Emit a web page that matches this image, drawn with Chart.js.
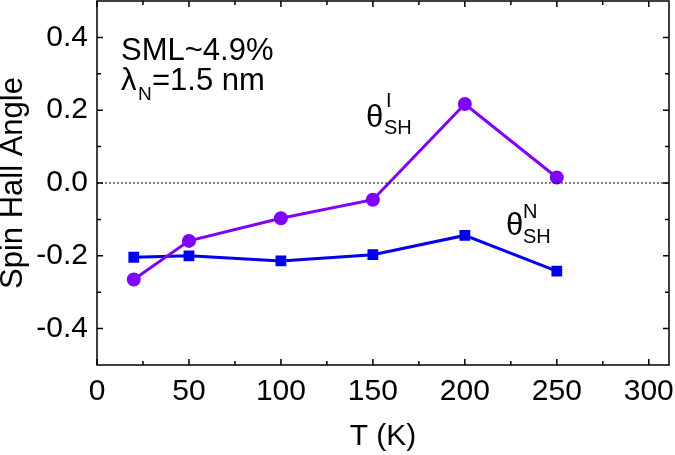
<!DOCTYPE html>
<html>
  <head>
    <script src="https://cdn.jsdelivr.net/npm/chart.js"></script>
    <title>Spin Hall Angle</title>
    <style>
      body { margin: 0; background: white; }
      canvas { display: block; }
    </style>
  </head>
  <body>
    <canvas id="shaChart" width="675" height="455"></canvas>
    <script>
      // data
      const temps = [20, 50, 100, 150, 200, 250];
      const thetaI = [-0.265, -0.159, -0.097, -0.046, 0.217, 0.015];
      const thetaN = [-0.204, -0.200, -0.214, -0.197, -0.144, -0.242];
      const xTicks = [0, 50, 100, 150, 200, 250, 300];
      const yTicks = [-0.4, -0.2, 0.0, 0.2, 0.4];
      const xMinor = [25, 75, 125, 175, 225, 275];
      const yMinor = [-0.3, -0.1, 0.1, 0.3];

      const FONT = "'Liberation Sans', Arial, sans-serif";

      // frame, inward ticks, zero line and text labels
      const framePlugin = {
        id: 'frame',
        afterDraw(chart) {
          const ctx = chart.ctx;
          const a = chart.chartArea;
          const xs = chart.scales.x, ys = chart.scales.y;
          ctx.save();

          // dotted zero line
          ctx.strokeStyle = '#000';
          ctx.lineWidth = 1;
          ctx.setLineDash([2, 2]);
          const y0 = ys.getPixelForValue(0);
          ctx.beginPath();
          ctx.moveTo(a.left, y0);
          ctx.lineTo(a.right, y0);
          ctx.stroke();
          ctx.setLineDash([]);

          ctx.lineWidth = 1.5;
          ctx.strokeRect(a.left, a.top, a.right - a.left, a.bottom - a.top);

          function tick(v, len, horiz) {
            ctx.beginPath();
            if (horiz) {
              const px = xs.getPixelForValue(v);
              ctx.moveTo(px, a.bottom); ctx.lineTo(px, a.bottom - len);
              ctx.moveTo(px, a.top); ctx.lineTo(px, a.top + len);
            } else {
              const py = ys.getPixelForValue(v);
              ctx.moveTo(a.left, py); ctx.lineTo(a.left + len, py);
              ctx.moveTo(a.right, py); ctx.lineTo(a.right - len, py);
            }
            ctx.stroke();
          }
          xTicks.forEach(v => tick(v, 6, true));
          xMinor.forEach(v => tick(v, 4, true));
          yTicks.forEach(v => tick(v, 6, false));
          yMinor.forEach(v => tick(v, 4, false));

          // annotations
          ctx.fillStyle = '#000';
          ctx.textBaseline = 'alphabetic';
          ctx.textAlign = 'left';
          ctx.font = '31px ' + FONT;
          ctx.fillText('SML~4.9%', 121, 60);
          ctx.fillText('\u03bb', 121, 90);
          ctx.font = '19px ' + FONT;
          ctx.fillText('N', 138, 100);
          ctx.font = '31px ' + FONT;
          ctx.fillText('=1.5 nm', 152, 90);

          ctx.font = '31px ' + FONT;
          ctx.fillText('\u03b8', 366, 127);
          ctx.fillText('\u03b8', 506, 235);
          ctx.font = '20px ' + FONT;
          ctx.fillText('I', 386, 107);
          ctx.fillText('SH', 384, 134);
          ctx.fillText('N', 523, 218);
          ctx.fillText('SH', 523, 243);

          ctx.restore();
        }
      };

      function noPad(s) {
        s.paddingLeft = 0; s.paddingRight = 0;
        s.paddingTop = 0; s.paddingBottom = 0;
      }

      const ctx = document.getElementById('shaChart').getContext('2d');
      new Chart(ctx, {
        type: 'line',
        data: {
          datasets: [
            {
              label: 'theta I',
              data: temps.map((t, i) => ({ x: t, y: thetaI[i] })),
              borderColor: '#8000ff',
              backgroundColor: '#8000ff',
              borderWidth: 3,
              pointStyle: 'circle',
              pointRadius: 5.5,
            },
            {
              label: 'theta N',
              data: temps.map((t, i) => ({ x: t, y: thetaN[i] })),
              borderColor: '#0000ee',
              backgroundColor: '#0000ee',
              borderWidth: 3,
              pointStyle: 'rect',
              pointRadius: 5.5,
            },
          ],
        },
        options: {
          responsive: false,
          animation: false,
          layout: { autoPadding: false, padding: { top: 1, right: 6, left: 0, bottom: 0 } },
          plugins: { legend: { display: false }, tooltip: { enabled: false } },
          scales: {
            x: {
              type: 'linear',
              min: 0,
              max: 311,
              grid: { display: false, drawTicks: false },
              border: { display: false },
              afterBuildTicks: s => { s.ticks = xTicks.map(v => ({ value: v })); },
              afterFit: s => { s.height = 90; noPad(s); },
              ticks: { color: '#000', font: { family: FONT, size: 30 }, padding: 9, maxRotation: 0 },
              title: {
                display: true,
                text: 'T (K)',
                color: '#000',
                font: { family: FONT, size: 30 },
                padding: 0,
              },
            },
            y: {
              min: -0.5,
              max: 0.5,
              grid: { display: false, drawTicks: false },
              border: { display: false },
              afterBuildTicks: s => { s.ticks = yTicks.map(v => ({ value: v })); },
              afterFit: s => { s.width = 97; noPad(s); },
              ticks: {
                color: '#000',
                font: { family: FONT, size: 30 },
                padding: 9,
                callback: v => v.toFixed(1),
              },
              title: {
                display: true,
                text: 'Spin Hall Angle',
                color: '#000',
                font: { family: FONT, size: 31, lineHeight: 0.85 },
                padding: 0,
              },
            },
          },
        },
        plugins: [framePlugin],
      });
    </script>
  </body>
</html>
